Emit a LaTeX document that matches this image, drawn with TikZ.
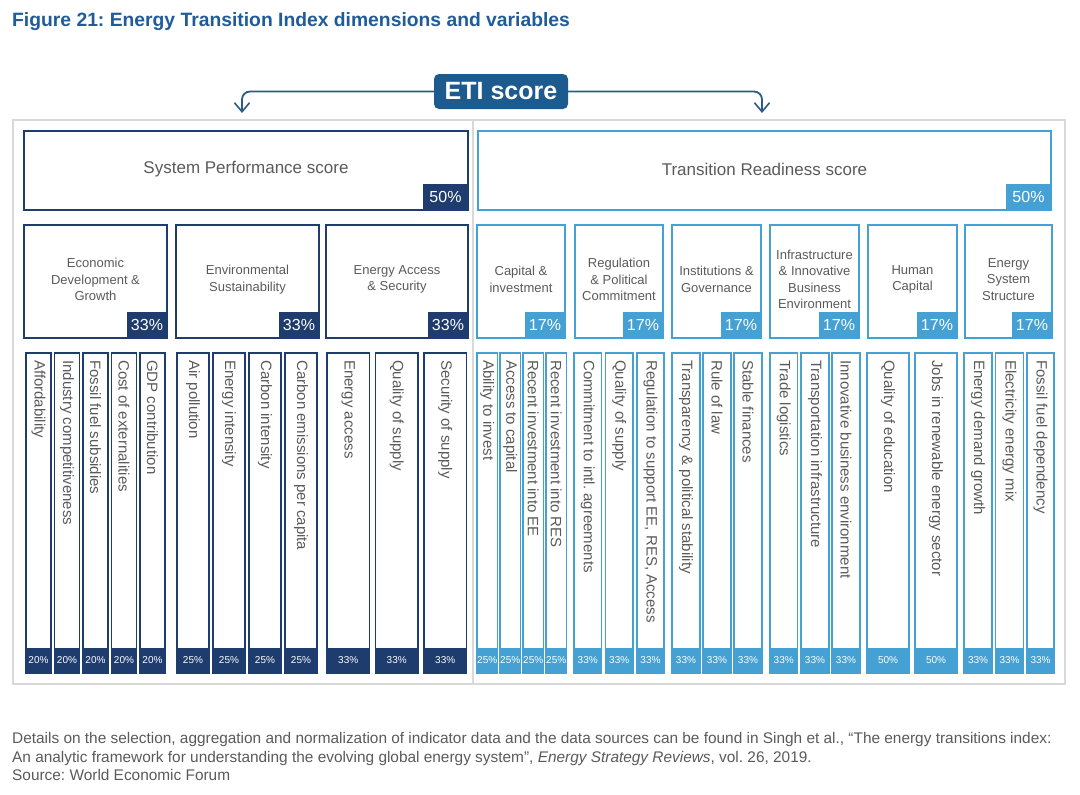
\documentclass[tikz,border=0pt]{standalone}
\usepackage{fontspec}
\setmainfont{Liberation Sans}
\usetikzlibrary{arrows.meta,calc}
\frenchspacing
\definecolor{navy}{HTML}{1E3C6E}
\definecolor{sky}{HTML}{45A1D3}
\definecolor{titleblue}{HTML}{1F5C99}
\definecolor{etiblue}{HTML}{1D5A8E}
\definecolor{connblue}{HTML}{2B5B86}
\definecolor{txtgrey}{HTML}{5A5A5A}
\definecolor{framegrey}{HTML}{D9D9D9}
\newcommand\fs[1]{\fontsize{#1}{#1}\selectfont}
% name, x1, width, colour, label, pct
\newcommand\SubBox[6]{%
  \node[subbox, draw=#4, minimum width=#3] (#1) at (#2,225) {};
  \node[sublabel] (#1-t) at ($(#1.center)+(0,-2)$) {#5};
  \node[subtab, fill=#4] (#1-p) at (#1.south east) {#6};
}
% name, x1, width, colour, line width, text, pct
\newcommand\VarCol[7]{%
  \node[varcol, draw=#4, line width=#5, minimum width=#3] (#1) at (#2,353) {};
  \node[vartext] (#1-t) at ($(#1.north)+(0,7)$) {#6};
  \node[vartab, fill=#4, minimum width=#3] (#1-p) at (#1.south) {#7};
}
\tikzset{
  topbox/.style={anchor=north west, line width=2.8pt, minimum height=79, inner sep=0, outer sep=0},
  toplabel/.style={font=\fs{17}, text=txtgrey},
  toptab/.style={anchor=south east, minimum width=45, minimum height=26, inner sep=0, outer sep=0, text=white, font=\fs{16}},
  subbox/.style={anchor=north west, line width=2.8pt, minimum height=113, inner sep=0, outer sep=0},
  sublabel/.style={font=\fontsize{13}{16.5}\selectfont, text=txtgrey, align=center},
  subtab/.style={anchor=south east, minimum width=40, minimum height=26, inner sep=0, outer sep=0, text=white, font=\fs{16}},
  varcol/.style={anchor=north west, minimum height=320, inner sep=0, outer sep=0},
  vartext/.style={rotate=-90, anchor=west, inner sep=0, font=\fs{15}, text=txtgrey},
  vartab/.style={anchor=south, minimum height=25, inner sep=0, outer sep=0, text=white, font=\fs{10}},
  eti/.style={fill=etiblue, rounded corners=5pt, minimum width=134, minimum height=35, inner sep=0, text=white, font=\bfseries\fs{25}},
  conn/.style={draw=connblue, line width=1.8pt, rounded corners=8pt, -{Straight Barb[length=9pt,width=15pt,line width=1.6pt]}},
  foot/.style={anchor=base west, inner sep=0, text=txtgrey, font=\fs{15.4}}
}
\begin{document}
\begin{tikzpicture}[x=1pt,y=-1pt]
\useasboundingbox (0,0) rectangle (1080,795);
\node[anchor=base west, inner sep=0, text=titleblue, font=\bfseries\fs{19.3}] (title) at (12,27) {Figure 21: Energy Transition Index dimensions and variables};

% frame
\draw[framegrey, line width=1.3pt] (13,120) rectangle (1065,684);
\draw[framegrey, line width=1.3pt] (473,120) -- (473,684);

% ETI score and connectors
\node[eti] (eti) at (501,91.5) {ETI score};
\coordinate (spin) at (242,113);
\coordinate (trin) at (762,113);
\draw[conn] (eti.west) -| (spin);
\draw[conn] (eti.east) -| (trin);

% top boxes
\node[topbox, draw=navy, minimum width=444] (sp) at (24,131) {};
\node[toplabel] (sp-t) at ($(sp.center)+(0,-1)$) {System Performance score};
\node[toptab, fill=navy] (sp-p) at (sp.south east) {50\%};
\node[topbox, draw=sky, minimum width=573] (tr) at (478,131) {};
\node[toplabel] (tr-t) at ($(tr.center)+(0,-1)$) {Transition Readiness score};
\node[toptab, fill=sky] (tr-p) at (tr.south east) {50\%};

% sub boxes
\SubBox{ed}{24}{143}{navy}{Economic\\Development \&\\Growth}{33\%}
\SubBox{es}{176}{143}{navy}{Environmental\\Sustainability}{33\%}
\SubBox{ea}{326}{142}{navy}{Energy Access\\\& Security}{33\%}
\SubBox{ci}{477}{88}{sky}{Capital \&\\investment}{17\%}
\SubBox{rp}{575}{88}{sky}{Regulation\\\& Political\\Commitment}{17\%}
\SubBox{ig}{672}{89}{sky}{Institutions \&\\Governance}{17\%}
\SubBox{ib}{770}{89}{sky}{Infrastructure\\\& Innovative\\Business\\Environment}{17\%}
\SubBox{hc}{868}{89}{sky}{Human\\Capital}{17\%}
\SubBox{ss}{965}{87}{sky}{Energy\\System\\Structure}{17\%}

% variable columns: System Performance
\VarCol{v1}{26}{25}{navy}{1.2pt}{Affordability}{20\%}
\VarCol{v2}{54.5}{25}{navy}{1.2pt}{Industry competitiveness}{20\%}
\VarCol{v3}{83}{25}{navy}{1.2pt}{Fossil fuel subsidies}{20\%}
\VarCol{v4}{111.5}{25}{navy}{1.2pt}{Cost of externalities}{20\%}
\VarCol{v5}{140}{25}{navy}{1.2pt}{GDP contribution}{20\%}
\VarCol{v6}{177}{32}{navy}{1.2pt}{Air pollution}{25\%}
\VarCol{v7}{213}{32}{navy}{1.2pt}{Energy intensity}{25\%}
\VarCol{v8}{249}{32}{navy}{1.2pt}{Carbon intensity}{25\%}
\VarCol{v9}{285}{32}{navy}{1.2pt}{Carbon emissions per capita}{25\%}
\VarCol{v10}{327}{42.5}{navy}{1.2pt}{Energy access}{33\%}
\VarCol{v11}{375.5}{42.5}{navy}{1.2pt}{Quality of supply}{33\%}
\VarCol{v12}{424}{42.5}{navy}{1.2pt}{Security of supply}{33\%}

% variable columns: Transition Readiness
\VarCol{w1}{477}{20.5}{sky}{1.8pt}{Ability to invest}{25\%}
\VarCol{w2}{500}{20.5}{sky}{1.8pt}{Access to capital}{25\%}
\VarCol{w3}{523}{20.5}{sky}{1.8pt}{Recent investment into EE}{25\%}
\VarCol{w4}{546}{20.5}{sky}{1.8pt}{Recent investment into RES}{25\%}
\VarCol{w5}{574}{27.5}{sky}{1.8pt}{Commitment to intl. agreements}{33\%}
\VarCol{w6}{605.5}{27.5}{sky}{1.8pt}{Quality of supply}{33\%}
\VarCol{w7}{637}{27}{sky}{1.8pt}{Regulation to support EE, RES, Access}{33\%}
\VarCol{w8}{672}{28}{sky}{1.8pt}{Transparency \& political stability}{33\%}
\VarCol{w9}{703}{28}{sky}{1.8pt}{Rule of law}{33\%}
\VarCol{w10}{734}{28}{sky}{1.8pt}{Stable finances}{33\%}
\VarCol{w11}{770}{27.5}{sky}{1.8pt}{Trade logistics}{33\%}
\VarCol{w12}{801}{28}{sky}{1.8pt}{Transportation infrastructure}{33\%}
\VarCol{w13}{832}{28}{sky}{1.8pt}{Innovative business environment}{33\%}
\VarCol{w14}{867}{42}{sky}{1.8pt}{Quality of education}{50\%}
\VarCol{w15}{915}{42}{sky}{1.8pt}{Jobs in renewable energy sector}{50\%}
\VarCol{w16}{964}{28}{sky}{1.8pt}{Energy demand growth}{33\%}
\VarCol{w17}{995.5}{28}{sky}{1.8pt}{Electricity energy mix}{33\%}
\VarCol{w18}{1027}{27}{sky}{1.8pt}{Fossil fuel dependency}{33\%}

% footnote
\node[foot] (f1) at (12,743) {Details on the selection, aggregation and normalization of indicator data and the data sources can be found in Singh et al., “The energy transitions index:};
\node[foot] (f2) at (12,762) {An analytic framework for understanding the evolving global energy system”, \textit{Energy Strategy Reviews}, vol. 26, 2019.};
\node[foot] (f3) at (12,780) {Source: World Economic Forum};
\end{tikzpicture}
\end{document}
